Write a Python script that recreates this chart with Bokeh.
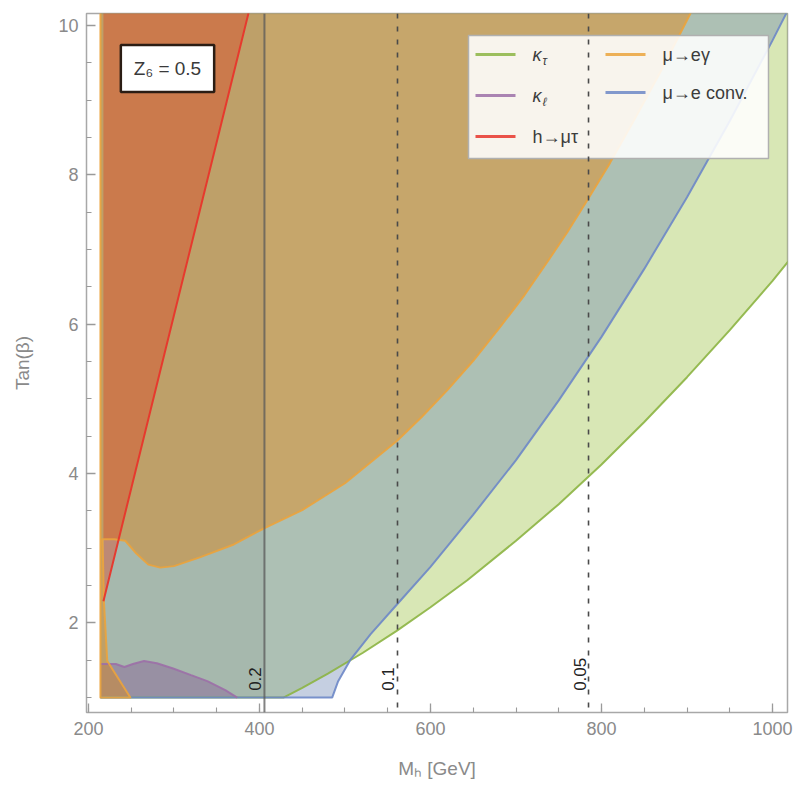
import math
from bokeh.plotting import figure
from bokeh.models import Range1d, Label, Span, FixedTicker
from bokeh.embed import file_html
from bokeh.resources import INLINE
from bokeh.core.properties import value

# ---------------- data ----------------
x_lim = (197.7, 1017.5)
y_lim = (0.8, 10.16)
m_start = 214.0
t_floor = 1.0
t_ceiling = 10.6

x_ticks = [200, 400, 600, 800, 1000]
x_minor = list(range(200, 1001, 50))
y_ticks = [2, 4, 6, 8, 10]
y_minor = [1.0, 1.5, 2.0, 2.5, 3.0, 3.5, 4.0, 4.5, 5.0, 5.5, 6.0, 6.5, 7.0, 7.5, 8.0, 8.5, 9.0, 9.5, 10.0]

# kappa_tau boundary
kt_M = [428, 450, 480, 521, 560, 600, 643, 700, 750, 800, 850, 900, 950, 1000, 1017, 1030]
kt_t = [1.00, 1.13, 1.32, 1.60, 1.89, 2.21, 2.57, 3.10, 3.59, 4.12, 4.69, 5.29, 5.92, 6.58, 6.82, 7.00]

# mu -> e conversion boundary
conv_M = [485, 492, 506, 530, 561, 600, 650, 700, 750, 800, 850, 900, 950, 1000, 1020, 1030]
conv_t = [1.00, 1.22, 1.50, 1.85, 2.25, 2.75, 3.45, 4.18, 4.98, 5.83, 6.74, 7.70, 8.72, 9.80, 10.25, 10.50]

# mu -> e gamma boundary
meg_M = [249, 222, 218, 216.5, 230, 243, 255, 270, 284, 300, 331, 370, 406, 450, 500, 561, 590,
         620, 650, 682, 710, 740, 760, 785, 810, 840, 870, 904, 925]
meg_t = [1.00, 1.49, 2.30, 3.12, 3.12, 3.10, 2.94, 2.78, 2.74, 2.76, 2.88, 3.05, 3.27, 3.51, 3.87, 4.44, 4.76,
         5.12, 5.51, 5.97, 6.39, 6.89, 7.23, 7.69, 8.16, 8.77, 9.40, 10.16, 10.65]

# kappa_l boundary
kl_M = [232, 242, 252, 265, 280, 299, 320, 339, 360, 374]
kl_t = [1.45, 1.41, 1.45, 1.49, 1.46, 1.39, 1.30, 1.22, 1.10, 1.00]

# h -> mu tau boundary
hmt_M = [217.5, 250, 300, 350, 392]
hmt_t = [2.29, 3.80, 6.12, 8.44, 10.39]

# cos(beta-alpha) contour lines
contour_M = [405.8, 561.4, 784.8]
contour_lbl = ["0.2", "0.1", "0.05"]
contour_lbl_t = 1.09

# colors
c_green, c_green_fill = "#8cb443", "#a9c95c"
c_blue, c_blue_fill = "#6d87c6", "#6f88b4"
c_orange, c_orange_fill = "#eba33c", "#dc8e28"
c_purple, c_purple_fill = "#9c6fa7", "#8a5a9a"
c_red, c_red_fill = "#e8352b", "#e8401e"

# ---------------- figure ----------------
W, H = 795, 788
FX0, FY0, FW, FH = 86, 13, 701, 699


def dx(px):
    return x_lim[0] + (px - FX0) * (x_lim[1] - x_lim[0]) / FW


def dy(py):
    return y_lim[1] - (py - FY0) * (y_lim[1] - y_lim[0]) / FH


p = figure(width=W, height=H, x_range=Range1d(*x_lim), y_range=Range1d(*y_lim),
           output_backend="svg", toolbar_location=None,
           min_border_left=FX0, min_border_right=W - FX0 - FW,
           min_border_top=FY0, min_border_bottom=H - FY0 - FH)
p.xgrid.grid_line_color = None
p.ygrid.grid_line_color = None
p.background_fill_color = "white"
p.border_fill_color = "white"
p.outline_line_color = "#a8a8a8"
p.outline_line_width = 1.5

# regions (fills)
green_x = [m_start] + kt_M + [kt_M[-1], m_start]
green_y = [t_floor] + kt_t + [t_ceiling, t_ceiling]
p.patch(green_x, green_y, fill_color=c_green_fill, fill_alpha=0.45, line_color=None)

blue_x = [m_start] + conv_M + [conv_M[-1], m_start]
blue_y = [t_floor] + conv_t + [t_ceiling, t_ceiling]
p.patch(blue_x, blue_y, fill_color=c_blue_fill, fill_alpha=0.40, line_color=None)

purple_x = [m_start, m_start] + kl_M
purple_y = [t_floor, kl_t[0]] + kl_t
p.patch(purple_x, purple_y, fill_color=c_purple_fill, fill_alpha=0.42, line_color=None)

orange_x = [m_start] + meg_M + [m_start]
orange_y = [t_floor] + meg_t + [t_ceiling]
p.patch(orange_x, orange_y, fill_color=c_orange_fill, fill_alpha=0.52, line_color=None)

red_x = hmt_M + [hmt_M[-1], hmt_M[0]]
red_y = hmt_t + [t_ceiling, t_ceiling]
p.patch(red_x, red_y, fill_color=c_red_fill, fill_alpha=0.40, line_color=None)

gray_x = [m_start, contour_M[0], contour_M[0], m_start]
gray_y = [t_floor, t_floor, t_ceiling, t_ceiling]
p.patch(gray_x, gray_y, fill_color="#555555", fill_alpha=0.07, line_color=None)

# boundary lines
p.line([m_start] + kt_M, [t_floor] + kt_t, line_color=c_green, line_width=2, line_alpha=0.9)
p.line([m_start] + conv_M, [t_floor] + conv_t, line_color=c_blue, line_width=2, line_alpha=0.9)
p.line([m_start] + kl_M, [kl_t[0]] + kl_t, line_color=c_purple, line_width=2, line_alpha=0.9)
p.line([m_start, m_start] + meg_M, [t_ceiling, t_floor] + meg_t, line_color=c_orange, line_width=2,
       line_alpha=0.9, line_join="round")
p.line(hmt_M, hmt_t, line_color=c_red, line_width=2, line_alpha=0.95)

# contour lines
p.add_layout(Span(location=contour_M[0], dimension="height", line_color="#5a5a5a",
                  line_width=2, line_alpha=0.75))
for m in contour_M[1:]:
    p.add_layout(Span(location=m, dimension="height", line_color="#4a4a4a",
                      line_width=1.6, line_dash="5 8"))
p.text(x=contour_M, y=[contour_lbl_t] * 3, text=contour_lbl, angle=math.pi / 2,
       text_align="left", text_baseline="bottom", x_offset=-3,
       text_font=value("Liberation Sans"), text_font_size="17px", text_color="#222222")

# axes
def style_axis(ax):
    ax.axis_line_color = None
    ax.major_tick_in = 9
    ax.major_tick_out = 0
    ax.minor_tick_in = 5
    ax.minor_tick_out = 0
    ax.major_tick_line_color = "#9a9a9a"
    ax.minor_tick_line_color = "#9a9a9a"
    ax.major_tick_line_width = 1.3
    ax.minor_tick_line_width = 1.1
    ax.major_label_text_font = "Liberation Sans"
    ax.major_label_text_font_size = "18px"
    ax.major_label_text_color = "#8a8a8a"
    ax.axis_label_text_font = "Liberation Sans"
    ax.axis_label_text_font_style = "normal"
    ax.axis_label_text_font_size = "19px"
    ax.axis_label_text_color = "#8a8a8a"


p.xaxis.ticker = FixedTicker(ticks=x_ticks, minor_ticks=x_minor)
p.yaxis.ticker = FixedTicker(ticks=y_ticks, minor_ticks=y_minor)
style_axis(p.xaxis[0])
style_axis(p.yaxis[0])
p.xaxis.major_label_standoff = 9
p.yaxis.major_label_standoff = 8

p.yaxis.axis_label = "Tan(β)"
p.yaxis.axis_label_standoff = 22
p.xaxis.axis_label = "Mₕ [GeV]"
p.xaxis.axis_label_standoff = 20

lab_font = "Liberation Sans"

# Z6 box
p.add_layout(Label(x=dx(167), y=dy(68), text="Z₆ = 0.5", text_font=lab_font,
                   text_font_size="19px", text_color="#3a3a3a", text_align="center",
                   text_baseline="middle", background_fill_color="white",
                   border_line_color="#2b1d14", border_line_width=2.5, padding=13))

# legend (manual, for sub-scripted labels)
p.quad(left=[dx(468)], right=[dx(768)], top=[dy(35)], bottom=[dy(158)],
       fill_color="white", fill_alpha=0.88, line_color="#b0b0b0", line_width=1.5)
leg_rows = [
    (475, 54, c_green, "κ", "τ"),
    (475, 95, c_purple, "κ", "ℓ"),
    (475, 136, c_red, "h→μτ", ""),
    (605, 54, c_orange, "μ→eγ", ""),
    (605, 92, c_blue, "μ→e conv.", ""),
]
for (lx, ly, col, main, sub) in leg_rows:
    p.segment(x0=[dx(lx)], x1=[dx(lx + 40)], y0=[dy(ly)], y1=[dy(ly)],
              line_color=col, line_width=3, line_alpha=0.85)
    p.add_layout(Label(x=dx(lx + 57), y=dy(ly), text=main, text_font=lab_font,
                       text_font_style="italic" if sub else "normal",
                       text_font_size="18px", text_color="#3c3c3c", text_baseline="middle"))
    if sub:
        p.add_layout(Label(x=dx(lx + 67), y=dy(ly + 6), text=sub, text_font=lab_font,
                           text_font_style="italic", text_font_size="12px",
                           text_color="#3c3c3c", text_baseline="middle"))

open("out.html", "w").write(file_html(p, INLINE))
